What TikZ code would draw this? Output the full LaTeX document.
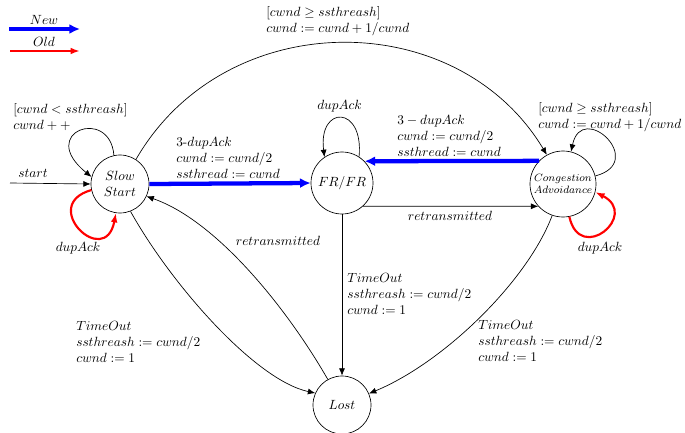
\documentclass[tikz,border=0pt]{standalone}
\usetikzlibrary{arrows.meta}
\begin{document}
\begin{tikzpicture}[x=0.75pt,y=-0.75pt,
  state/.style={circle,draw,line width=0.5pt,inner sep=0pt},
  lbl/.style={align=left,inner sep=0pt,anchor=west},
  trans/.style={line width=0.5pt,-{Latex[length=5.5pt,width=4.5pt]}},
  newtrans/.style={blue,line width=3.2pt,-{Latex[length=8pt,width=7.5pt]}},
  oldtrans/.style={red,line width=1.6pt,-{Latex[length=7pt,width=5pt]}}]
\useasboundingbox (0,0) rectangle (685,432);

% states
\node[state,minimum size=43.5pt,align=center] (ss) at (120,184) {$Slow$\\$Start$};
\node[state,minimum size=46.5pt] (fr) at (342,183) {$FR/FR$};
\node[state,minimum size=49.5pt,align=center,font=\footnotesize] (ca) at (563,184) {$Congestion$\\$Advoidance$};
\node[state,minimum size=43.5pt] (lost) at (342,405) {$Lost$};

% legend
\coordinate (n1) at (9,29);
\coordinate (n2) at (80,29);
\draw[newtrans] (n1) -- (n2);
\node (newl) at (44,20) {$New$};
\coordinate (o1) at (10,51);
\coordinate (o2) at (80,51);
\draw[oldtrans] (o1) -- (o2);
\node (oldl) at (44,42) {$Old$};

% start
\coordinate (st) at (10,183);
\draw[trans] (st) -- (ss.west);
\node (startl) at (33,173) {$start$};

% slow start loops
\draw[trans] (ss.102) .. controls (110,106) and (36,132) .. (ss.166);
\node[lbl] (l1) at (13,117) {$[cwnd<ssthreash]$\\$cwnd++$};
\draw[oldtrans] (ss.192) .. controls (38,205) and (105,270) .. (ss.262);
\node (l2) at (78,248) {$dupAck$};

% SS -> FR
\draw[newtrans] (ss.east) -- (fr.west);
\node[lbl] (l3) at (176,157.5) {$3$-$dupAck$\\$cwnd:=cwnd/2$\\$ssthread:=cwnd$};

% SS -> CA top arc
\draw[trans] (ss.57) .. controls (225,5) and (457,5) .. (ca.119);
\node[lbl] (l4) at (266,21) {$[cwnd\geq ssthreash]$\\$cwnd:=cwnd+1/cwnd$};

% FR loop
\draw[trans] (fr.57) .. controls (364,105) and (318,105) .. (fr.124);
\node (l5) at (339.5,106) {$dupAck$};

% CA -> FR
\draw[newtrans] (ca.136) -- (fr.44);
\node[lbl] (l6) at (397,136) {$3-dupAck$\\$cwnd:=cwnd/2$\\$ssthread:=cwnd$};

% FR -> CA
\draw[trans] (fr.-48) -- (ca.-138);
\node (l7) at (450,216) {$retransmitted$};

% CA loops
\draw[trans] (ca.14) .. controls (648,162) and (582,100) .. (ca.76);
\node[lbl] (l8) at (538,117.5) {$[cwnd\geq ssthreash]$\\$cwnd:=cwnd+1/cwnd$};
\draw[oldtrans] (ca.-79) .. controls (580,265) and (640,215) .. (ca.-14);
\node (l9) at (600,248) {$dupAck$};

% Lost -> SS
\draw[trans] (lost.119) .. controls (285,305) and (215,220) .. (ss.-25);
\node (l10) at (278,241) {$retransmitted$};

% SS -> Lost
\draw[trans] (ss.-69) .. controls (171,284) and (255,380) .. (lost.156);
\node[lbl] (l11) at (76,342) {$TimeOut$\\$ssthreash:=cwnd/2$\\$cwnd:=1$};

% FR -> Lost
\draw[trans] (fr.south) -- (lost.north);
\node[lbl] (l12) at (347,294) {$TimeOut$\\$ssthreash:=cwnd/2$\\$cwnd:=1$};

% CA -> Lost
\draw[trans] (ca.-109) .. controls (528,280) and (445,362) .. (lost.23);
\node[lbl] (l13) at (478,341) {$TimeOut$\\$ssthreash:=cwnd/2$\\$cwnd:=1$};
\end{tikzpicture}
\end{document}
